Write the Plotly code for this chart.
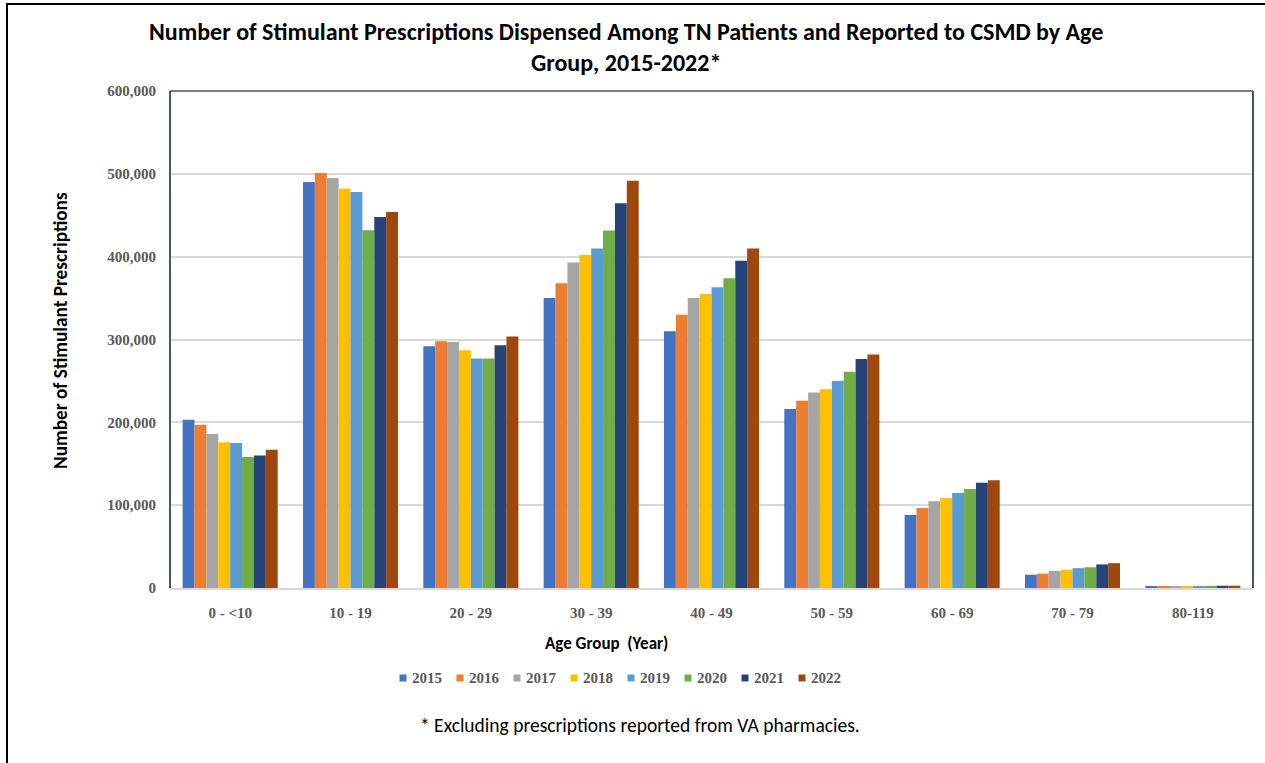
import plotly.graph_objects as go

age_groups = ["0 - <10", "10 - 19", "20 - 29", "30 - 39", "40 - 49",
              "50 - 59", "60 - 69", "70 - 79", "80-119"]
years = ["2015", "2016", "2017", "2018", "2019", "2020", "2021", "2022"]
colors = ["#4472C4", "#ED7D31", "#A5A5A5", "#FFC000",
          "#5B9BD5", "#70AD47", "#264478", "#9E480E"]

v2015 = [203000, 490000, 292000, 350000, 310000, 216000, 88000, 16000, 2300]
v2016 = [197000, 501000, 298000, 368000, 330000, 226000, 96500, 17300, 2400]
v2017 = [186000, 495000, 297000, 393000, 350000, 236000, 104700, 20500, 2400]
v2018 = [176000, 482000, 287000, 402000, 355000, 240000, 108700, 22000, 2500]
v2019 = [175000, 478000, 277000, 410000, 363000, 250000, 114700, 24000, 2500]
v2020 = [158000, 432000, 277000, 431500, 374000, 261000, 119600, 25000, 2600]
v2021 = [160000, 448000, 293000, 464500, 395000, 276500, 127000, 28500, 2700]
v2022 = [167000, 454000, 303500, 491500, 410000, 282000, 130000, 30000, 2800]
series = [v2015, v2016, v2017, v2018, v2019, v2020, v2021, v2022]

y_ticks = [0, 100000, 200000, 300000, 400000, 500000, 600000]
y_tick_text = ["0", "100,000", "200,000", "300,000", "400,000", "500,000", "600,000"]

W, H = 1265, 763
L, R, T, B = 170, 12, 91, 175
pw, ph = W - L - R, H - T - B


def px(x):
    return (x - L) / pw


def py(y):
    return (H - B - y) / ph


fig = go.Figure()
for yr, vals, col in zip(years, series, colors):
    fig.add_trace(go.Bar(name=yr, x=age_groups, y=vals, marker_color=col,
                         marker_line_width=0))

serif = "Liberation Serif, Times New Roman, serif"
calibri = "Carlito, Lato, sans-serif"

annotations = [
    dict(text="<b>Number of Stimulant Prescriptions Dispensed Among TN Patients and Reported to CSMD by Age</b><br><b>Group, 2015-2022*</b>",
         x=px(626), y=py(47), xref="paper", yref="paper", xanchor="center", yanchor="middle",
         showarrow=False, font=dict(family=calibri, size=24, color="black"), align="center"),
    dict(text="<b>Number of Stimulant Prescriptions</b>", x=px(60), y=py(331), xref="paper", yref="paper",
         textangle=-90, showarrow=False, xanchor="center", yanchor="middle",
         font=dict(family=calibri, size=19.3, color="black")),
    dict(text="<b>Age Group  (Year)</b>", x=px(606), y=py(643), xref="paper", yref="paper",
         showarrow=False, xanchor="center", yanchor="middle",
         font=dict(family=calibri, size=17, color="black")),
    dict(text="* Excluding prescriptions reported from VA pharmacies.", x=px(640), y=py(725),
         xref="paper", yref="paper", showarrow=False, xanchor="center", yanchor="middle",
         font=dict(family=calibri, size=19.5, color="black")),
]

shapes = [
    dict(type="line", xref="paper", yref="paper", x0=0, x1=0, y0=0, y1=1,
         line=dict(color="#44546A", width=2)),
    dict(type="line", xref="paper", yref="paper", x0=0, x1=1, y0=1, y1=1,
         line=dict(color="#44546A", width=1.5)),
    dict(type="line", xref="paper", yref="paper", x0=1, x1=1, y0=0, y1=1,
         line=dict(color="#44546A", width=2)),
    dict(type="rect", xref="paper", yref="paper", x0=px(7), x1=px(1300), y0=py(4), y1=py(800),
         line=dict(color="black", width=2), layer="above"),
]

# legend (drawn as swatches + labels, one per series)
leg_x0, leg_step, leg_y = 403, 57, 678
for i, (yr, col) in enumerate(zip(years, colors)):
    cx = leg_x0 + i * leg_step
    shapes.append(dict(type="rect", xref="paper", yref="paper",
                       x0=px(cx - 3.5), x1=px(cx + 3.5), y0=py(leg_y + 3.5), y1=py(leg_y - 3.5),
                       fillcolor=col, line=dict(width=0)))
    annotations.append(dict(text="<b>" + yr + "</b>", x=px(cx + 7), y=py(leg_y), xref="paper", yref="paper",
                            xanchor="left", yanchor="middle", showarrow=False,
                            font=dict(family=serif, size=15, color="#595959")))

fig.update_layout(
    width=W, height=H,
    margin=dict(l=L, r=R, t=T, b=B, autoexpand=False),
    paper_bgcolor="white", plot_bgcolor="white",
    barmode="group", bargap=0.21, bargroupgap=0,
    showlegend=False,
    xaxis=dict(showgrid=False, showline=True, linecolor="#D9D9D9", linewidth=1.5,
               ticks="outside", ticklen=10, tickcolor="rgba(0,0,0,0)",
               tickfont=dict(family=serif, size=15, color="#595959", weight="bold")),
    yaxis=dict(range=[0, 600000], tickvals=y_ticks, ticktext=y_tick_text,
               showgrid=True, gridcolor="#D9D9D9", gridwidth=1.5, zeroline=False,
               showline=False, ticks="outside", ticklen=10, tickcolor="rgba(0,0,0,0)",
               tickfont=dict(family=serif, size=15, color="#595959", weight="bold")),
    annotations=annotations,
    shapes=shapes,
)

fig.write_html("out.html", config={"displayModeBar": False},
               post_script="document.body.style.margin='0px';")
